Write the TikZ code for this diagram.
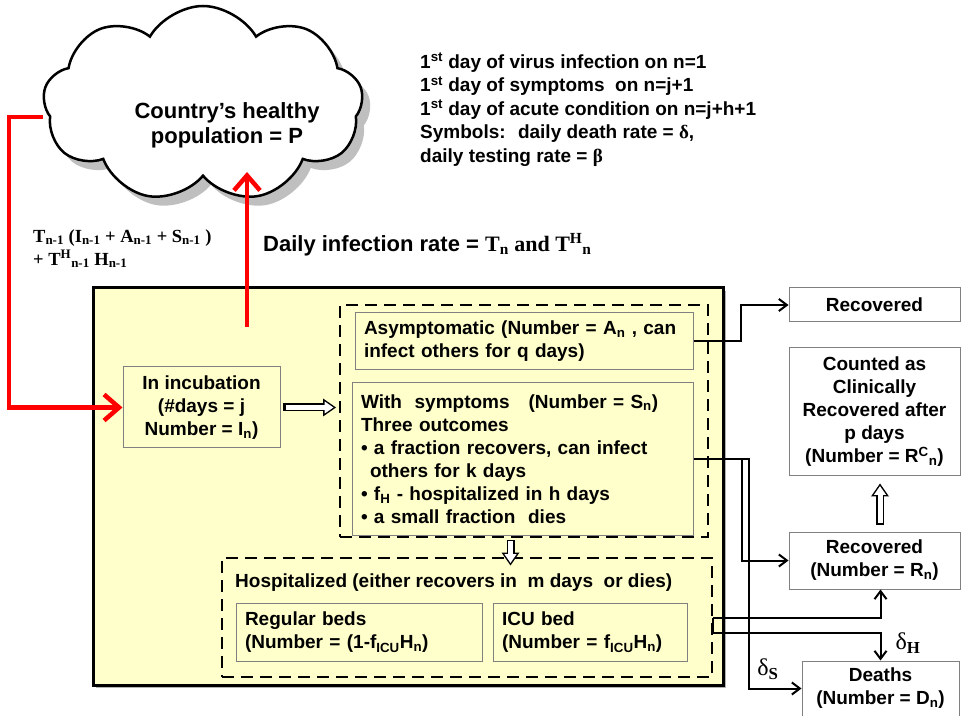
\documentclass[tikz,border=0pt]{standalone}
\usepackage{fontspec}
\setmainfont{Liberation Sans}
\newfontfamily\tnr{Liberation Serif}
\usetikzlibrary{arrows, arrows.meta, positioning, shapes}
\definecolor{boxyellow}{RGB}{255,255,204}
\definecolor{edgegray}{RGB}{128,128,128}
\tikzstyle{stage} = [rectangle, draw=edgegray, line width=1pt, fill=boxyellow, align=left, inner xsep=9pt, inner ysep=0pt]
\tikzstyle{outcome} = [rectangle, draw=edgegray, line width=1pt, fill=white, align=center, minimum width=171pt, inner sep=0pt]
\tikzstyle{group} = [rectangle, draw, line width=2pt, dash pattern=on 12pt off 7pt]
\tikzstyle{puff} = [cloud, cloud puffs=9, cloud puff arc=120, cloud ignores aspect, minimum width=320pt, minimum height=196pt]
\tikzstyle{arrow} = [line width=2pt, ->, >={Straight Barb[length=8pt, width=12pt]}]
\tikzstyle{redarrow} = [line width=4.5pt, red, ->, >={Straight Barb[length=15pt, width=26pt]}]
\tikzstyle{hollow} = [line width=8pt, -{Triangle[length=13pt, width=18pt, line width=0pt]}]
\tikzstyle{hollowcore} = [line width=5pt, white, -{Triangle[length=8.9pt, width=12.3pt, line width=0pt]}]

\begin{document}
\begin{tikzpicture}[x=1pt, y=1pt, font=\fontsize{19}{23}\selectfont\bfseries]
\useasboundingbox (0,0) rectangle (963,715);

% healthy population
\node(shade)[puff, fill=black!25] at (211,602) {};
\node(cloud)[puff, draw, line width=2.5pt, fill=white] at (203,611) {};
\node(pop)[align=center, font=\fontsize{22}{25}\selectfont\bfseries] at (227,590) {Country’s healthy\\population = P};

\node(notes)[anchor=north west, align=left, inner sep=0pt, font=\fontsize{19}{23.5}\selectfont\bfseries] at (420,662)
  {1\textsuperscript{st} day of virus infection on n=1\\
   1\textsuperscript{st} day of symptoms~ on n=j+1\\
   1\textsuperscript{st} day of acute condition on n=j+h+1\\
   Symbols:~ daily death rate = {\tnr δ},\\
   daily testing rate = {\tnr β}};

\node(rate)[anchor=north west, align=left, inner sep=0pt, font=\fontsize{18.5}{23}\selectfont\tnr\bfseries] at (33,486)
  {T\textsubscript{n-1} (I\textsubscript{n-1} + A\textsubscript{n-1} + S\textsubscript{n-1} )\\
   + T\textsuperscript{H}\textsubscript{n-1} H\textsubscript{n-1}};
\node(daily)[anchor=west, inner sep=0pt, font=\fontsize{22}{26}\selectfont\bfseries] at (263,470)
  {Daily infection rate = {\tnr T\textsubscript{n} and T\textsuperscript{H}\textsubscript{n}}};

% model
\node(shadow)[fill=black!30, minimum width=630pt, minimum height=397pt] at (411,225.5) {};
\node(model)[draw, line width=3pt, fill=boxyellow, minimum width=630pt, minimum height=397pt] at (408,228.5) {};

\node(inc)[stage, align=center, minimum width=157pt, minimum height=81pt] at (201.5,307.5)
  {In incubation\\(\#days = j\\Number = I\textsubscript{n})};

\node(infected)[group, minimum width=368pt, minimum height=232pt] at (524,294) {};
\node(asym)[stage, text width=320pt, minimum height=57pt] at (524,373.5)
  {Asymptomatic (Number = A\textsubscript{n} , can\\infect others for q days)};
\node(symp)[stage, text width=323pt, minimum height=152pt] at (522.5,256)
  {With~ symptoms~~ (Number = S\textsubscript{n})\\
   Three outcomes\\
   • a fraction recovers, can infect\\
   \hspace*{9pt}others for k days\\
   • f\textsubscript{H} - hospitalized in h days\\
   • a small fraction~ dies};

\node(hosp)[group, minimum width=490pt, minimum height=119pt] at (467,97.5) {};
\node(hosptext)[anchor=west, inner sep=0pt] at (235,132) {Hospitalized (either recovers in~ m days~ or dies)};
\node(regular)[stage, text width=228pt, minimum height=58pt] at (359,82.5)
  {Regular beds\\(Number = (1-f\textsubscript{ICU}H\textsubscript{n})};
\node(icu)[stage, text width=176pt, minimum height=58pt] at (590,82.5)
  {ICU bed\\(Number = f\textsubscript{ICU}H\textsubscript{n})};

% outcomes
\node(rec1)[outcome, minimum height=34pt] at (874.5,410) {Recovered};
\node(counted)[outcome, minimum height=128pt, below = 25pt of rec1]
  {Counted as\\Clinically\\Recovered after\\p days\\(Number = R\textsuperscript{C}\textsubscript{n})};
\node(recn)[outcome, minimum height=57pt, below = 55pt of counted] {Recovered\\(Number = R\textsubscript{n})};
\node(deaths)[outcome, minimum width=157pt, minimum height=55pt, below = 71pt of recn, xshift=6pt] {Deaths\\(Number = D\textsubscript{n})};

\node(dh)[font=\fontsize{24}{26}\selectfont\tnr] at (908,72) {δ\textsubscript{\bfseries H}};
\node(ds)[font=\fontsize{24}{26}\selectfont\tnr] at (768,46) {δ\textsubscript{\bfseries S}};

\coordinate(src) at (247,388);
\coordinate(sink) at (247,543);

\draw [redarrow] ([yshift=-13pt]cloud.west) -- ++(-34,0) |- (inc.west);
\draw [redarrow] (src) -- (sink);

\draw [hollow, shorten <=2pt] (inc.east) -- ([xshift=-3pt]inc.east -| infected.west);
\draw [hollowcore, shorten <=5pt, shorten >=2.6pt] (inc.east) -- ([xshift=-3pt]inc.east -| infected.west);
\draw [hollow, shorten <=4pt] ([xshift=-12pt]symp.south) -- ++(0,-30);
\draw [hollowcore, shorten <=5.5pt, shorten >=2.6pt] ([xshift=-12pt]symp.south) -- ++(0,-30);
\draw [hollow, shorten <=7pt, shorten >=7pt] ([xshift=5.5pt]recn.north) -- ([xshift=5.5pt]counted.south);
\draw [hollowcore, shorten <=8.5pt, shorten >=9.6pt] ([xshift=5.5pt]recn.north) -- ([xshift=5.5pt]counted.south);

\draw [arrow] (asym.east) -- ++(47,0) |- (rec1.west);
\draw [arrow] (symp.east) -- ++(55,0) |- (deaths.west);
\draw [arrow] ([xshift=48pt]symp.east) |- (recn.west);
\draw [line width=2pt] (hosp.east) -- ++(0,-15);
\draw [arrow] (hosp.east) -| (recn.south -| deaths.north);
\draw [arrow] ([yshift=-15pt]hosp.east) -| (deaths.north);

\end{tikzpicture}
\end{document}
